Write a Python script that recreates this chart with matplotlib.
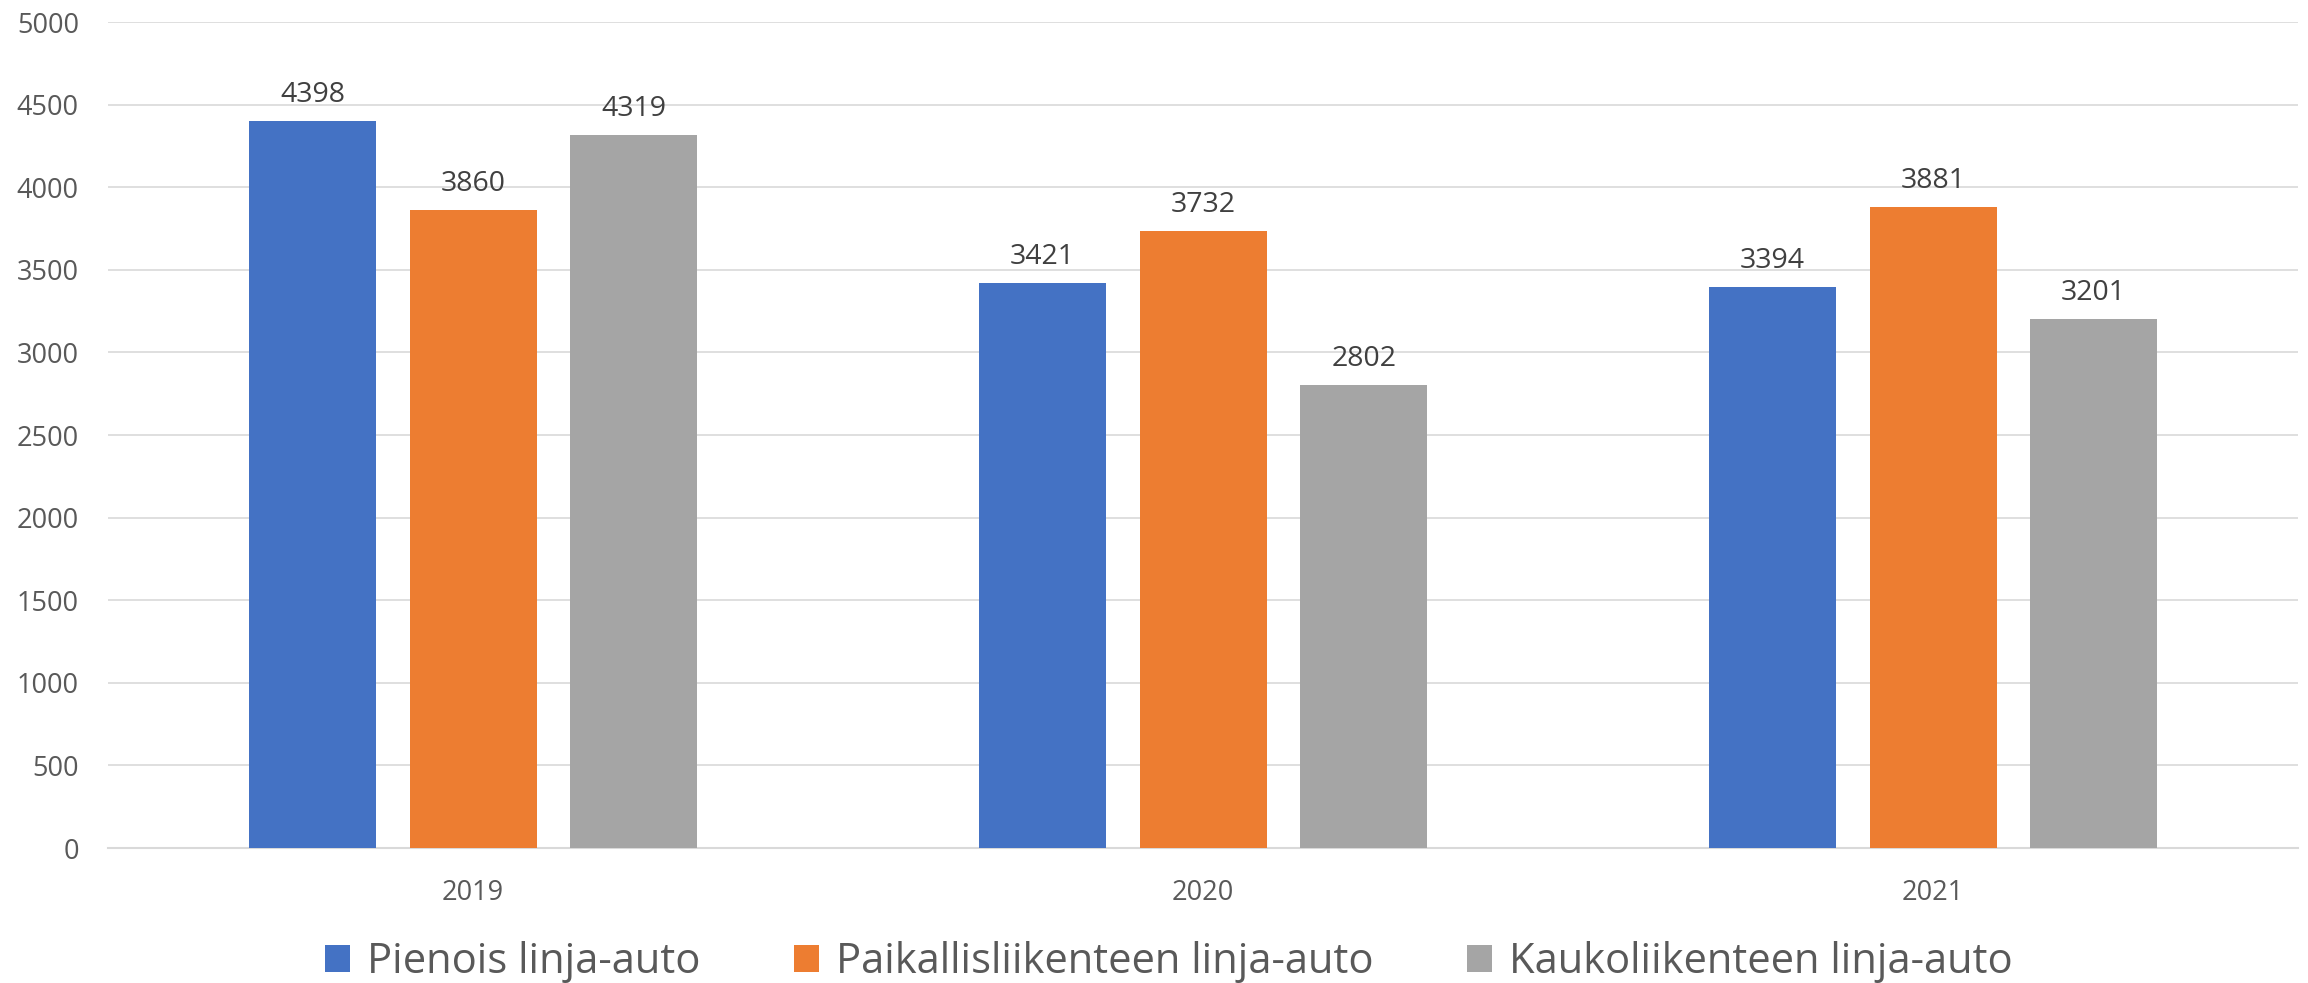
import numpy as np
import matplotlib.pyplot as plt
from matplotlib.patches import Patch

plt.rcParams['font.family'] = ['Open Sans', 'DejaVu Sans']

# Datos
vuodet = ['2019', '2020', '2021']
sarjat = ['Pienois linja-auto', 'Paikallisliikenteen linja-auto', 'Kaukoliikenteen linja-auto']
pienois = [4398, 3421, 3394]
paikallis = [3860, 3732, 3881]
kauko = [4319, 2802, 3201]
y_ticks = [0, 500, 1000, 1500, 2000, 2500, 3000, 3500, 4000, 4500, 5000]

colores = ['#4472C4', '#ED7D31', '#A5A5A5']
texto = '#595959'
etiqueta = '#404040'
rejilla = '#D9D9D9'

fig = plt.figure(figsize=(23.08, 9.83), dpi=100)
ax = fig.add_axes([0.0468, 0.1373, 0.9489, 0.8403])

x = np.arange(len(vuodet))
ancho = 0.174
paso = 0.22

for i, (valores, color) in enumerate(zip([pienois, paikallis, kauko], colores)):
    pos = x + (i - 1) * paso
    barras = ax.bar(pos, valores, width=ancho, color=color, zorder=3)
    for b, v in zip(barras, valores):
        ax.annotate(str(v), (b.get_x() + b.get_width() / 2, v),
                    xytext=(0, 12), textcoords='offset pixels',
                    ha='center', va='bottom', fontsize=20.5, color=etiqueta)

ax.set_xlim(-0.5, 2.5)
ax.set_ylim(0, 5000)
ax.set_yticks(y_ticks)
ax.set_xticks(x)
ax.set_xticklabels(vuodet)

ax.grid(axis='y', color=rejilla, linewidth=1.2, zorder=0)
for lado in ['top', 'right', 'left']:
    ax.spines[lado].set_visible(False)
ax.spines['bottom'].set_color(rejilla)
ax.spines['bottom'].set_linewidth(1.5)

ax.tick_params(axis='y', length=0, pad=21, labelsize=19.5, labelcolor=texto)
ax.tick_params(axis='x', length=0, pad=22, labelsize=19.5, labelcolor=texto)

# Leyenda
manijas = [Patch(facecolor=c, edgecolor='none') for c in colores]
fig.legend(manijas, sarjat, loc='center', bbox_to_anchor=(1169 / 2308, 1 - 962 / 983),
           ncol=3, frameon=False, fontsize=30, labelcolor=texto,
           handlelength=0.6, handleheight=0.6, handletextpad=0.4, columnspacing=2.25)

plt.savefig('out.png', dpi=100)
